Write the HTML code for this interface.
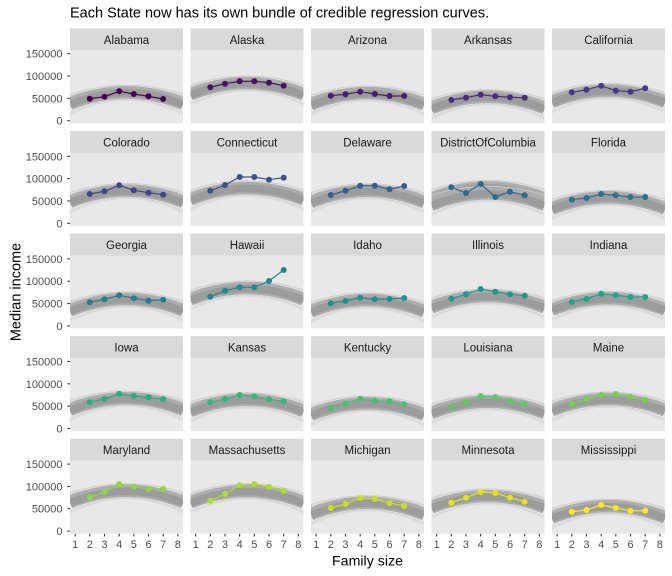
<!DOCTYPE html>
<html><head><meta charset="utf-8">
<style>
html,body{margin:0;padding:0;background:#fff;}
svg{display:block;font-family:"Liberation Sans",Arial,sans-serif;}
.s{font-size:11.5px;fill:#1A1A1A;text-anchor:middle;}
.yl{font-size:11px;fill:#4D4D4D;text-anchor:end;}
.xl{font-size:11px;fill:#4D4D4D;text-anchor:middle;}
.tk{stroke:#333;stroke-width:1.07;}
.ln{fill:none;stroke-width:1.2;}
circle{r:3px;}
</style></head>
<body>
<svg width="672" height="576" viewBox="0 0 672 576" xmlns="http://www.w3.org/2000/svg">
<defs>
<clipPath id="c"><rect x="0" y="0" width="113" height="73"/></clipPath>
<g id="b" fill="none">
 <path d="M0,2 Q56.5,-16 113,2" stroke="#cdcdcd" stroke-width="1"/>
 <path d="M0,4 Q56.5,-15 113,4" stroke="#c2c2c2" stroke-width="1"/>
 <path d="M0,20.5 Q56.5,-6.5 113,20.5" stroke="#d2d2d2" stroke-width="1"/>
 <path d="M0,22.5 Q56.5,-6.5 113,22.5" stroke="#dadada" stroke-width="1"/>
 <path d="M0,11.5 Q56.5,-11.5 113,11.5" stroke="#adadad" stroke-width="12.5"/>
 <path d="M0,12.3 Q56.5,-11.3 113,12.3" stroke="#9c9c9c" stroke-width="7.5"/>
</g>
<g id="yax">
 <text class="yl" x="62.5" y="7.4">150000</text>
 <text class="yl" x="62.5" y="29.7">100000</text>
 <text class="yl" x="62.5" y="52">50000</text>
 <text class="yl" x="62.5" y="74.4">0</text>
 <line class="tk" x1="67.3" x2="70" y1="3.4" y2="3.4"/>
 <line class="tk" x1="67.3" x2="70" y1="25.7" y2="25.7"/>
 <line class="tk" x1="67.3" x2="70" y1="48.07" y2="48.07"/>
 <line class="tk" x1="67.3" x2="70" y1="70.4" y2="70.4"/>
</g>
<g id="xt">
 <line class="tk" x1="5.14" x2="5.14" y1="0" y2="2.75"/>
 <line class="tk" x1="19.81" x2="19.81" y1="0" y2="2.75"/>
 <line class="tk" x1="34.49" x2="34.49" y1="0" y2="2.75"/>
 <line class="tk" x1="49.16" x2="49.16" y1="0" y2="2.75"/>
 <line class="tk" x1="63.84" x2="63.84" y1="0" y2="2.75"/>
 <line class="tk" x1="78.51" x2="78.51" y1="0" y2="2.75"/>
 <line class="tk" x1="93.19" x2="93.19" y1="0" y2="2.75"/>
 <line class="tk" x1="107.86" x2="107.86" y1="0" y2="2.75"/>
</g>
</defs>
<rect width="672" height="576" fill="#fff"/>

<text x="70" y="17.5" style="font-size:14.5px;fill:#000">Each State now has its own bundle of credible regression curves.</text>

<use href="#yax" transform="translate(0,50.3)"/>
<use href="#yax" transform="translate(0,152.9)"/>
<use href="#yax" transform="translate(0,255.5)"/>
<use href="#yax" transform="translate(0,358.1)"/>
<use href="#yax" transform="translate(0,460.7)"/>

<g transform="translate(70,533.7)"><use href="#xt"/>
<text class="xl" x="5.14" y="14.3">1</text><text class="xl" x="19.81" y="14.3">2</text><text class="xl" x="34.49" y="14.3">3</text><text class="xl" x="49.16" y="14.3">4</text><text class="xl" x="63.84" y="14.3">5</text><text class="xl" x="78.51" y="14.3">6</text><text class="xl" x="93.19" y="14.3">7</text><text class="xl" x="107.86" y="14.3">8</text></g>
<g transform="translate(190.5,533.7)"><use href="#xt"/>
<text class="xl" x="5.14" y="14.3">1</text><text class="xl" x="19.81" y="14.3">2</text><text class="xl" x="34.49" y="14.3">3</text><text class="xl" x="49.16" y="14.3">4</text><text class="xl" x="63.84" y="14.3">5</text><text class="xl" x="78.51" y="14.3">6</text><text class="xl" x="93.19" y="14.3">7</text><text class="xl" x="107.86" y="14.3">8</text></g>
<g transform="translate(311,533.7)"><use href="#xt"/>
<text class="xl" x="5.14" y="14.3">1</text><text class="xl" x="19.81" y="14.3">2</text><text class="xl" x="34.49" y="14.3">3</text><text class="xl" x="49.16" y="14.3">4</text><text class="xl" x="63.84" y="14.3">5</text><text class="xl" x="78.51" y="14.3">6</text><text class="xl" x="93.19" y="14.3">7</text><text class="xl" x="107.86" y="14.3">8</text></g>
<g transform="translate(431.5,533.7)"><use href="#xt"/>
<text class="xl" x="5.14" y="14.3">1</text><text class="xl" x="19.81" y="14.3">2</text><text class="xl" x="34.49" y="14.3">3</text><text class="xl" x="49.16" y="14.3">4</text><text class="xl" x="63.84" y="14.3">5</text><text class="xl" x="78.51" y="14.3">6</text><text class="xl" x="93.19" y="14.3">7</text><text class="xl" x="107.86" y="14.3">8</text></g>
<g transform="translate(552,533.7)"><use href="#xt"/>
<text class="xl" x="5.14" y="14.3">1</text><text class="xl" x="19.81" y="14.3">2</text><text class="xl" x="34.49" y="14.3">3</text><text class="xl" x="49.16" y="14.3">4</text><text class="xl" x="63.84" y="14.3">5</text><text class="xl" x="78.51" y="14.3">6</text><text class="xl" x="93.19" y="14.3">7</text><text class="xl" x="107.86" y="14.3">8</text></g>

<text x="367.5" y="565.5" style="font-size:14.2px;fill:#000;text-anchor:middle">Family size</text>
<text transform="translate(20.3,292) rotate(-90)" style="font-size:14.5px;fill:#000;text-anchor:middle">Median income</text>

<!-- ROW 1 -->
<g transform="translate(70,28.3)"><rect width="113" height="22" fill="#D9D9D9"/><text class="s" x="56.5" y="15.5">Alabama</text>
<g transform="translate(0,22)"><rect width="113" height="73" fill="#E8E8E8"/><g clip-path="url(#c)"><use href="#b" transform="translate(0,42)"/></g>
<polyline class="ln" stroke="#440154" points="19.8,48.4 34.5,46.4 49.2,41 63.8,43.7 78.5,46 93.2,48.7"/>
<g fill="#440154"><circle cx="19.8" cy="48.4" r="3"/><circle cx="34.5" cy="46.4" r="3"/><circle cx="49.2" cy="41" r="3"/><circle cx="63.8" cy="43.7" r="3"/><circle cx="78.5" cy="46" r="3"/><circle cx="93.2" cy="48.7" r="3"/></g></g></g>

<g transform="translate(190.5,28.3)"><rect width="113" height="22" fill="#D9D9D9"/><text class="s" x="56.5" y="15.5">Alaska</text>
<g transform="translate(0,22)"><rect width="113" height="73" fill="#E8E8E8"/><g clip-path="url(#c)"><use href="#b" transform="translate(0,32.7)"/></g>
<polyline class="ln" stroke="#471164" points="19.8,37 34.5,33.4 49.2,31 63.8,31 78.5,32.4 93.2,35.4"/>
<g fill="#471164"><circle cx="19.8" cy="37" r="3"/><circle cx="34.5" cy="33.4" r="3"/><circle cx="49.2" cy="31" r="3"/><circle cx="63.8" cy="31" r="3"/><circle cx="78.5" cy="32.4" r="3"/><circle cx="93.2" cy="35.4" r="3"/></g></g></g>

<g transform="translate(311,28.3)"><rect width="113" height="22" fill="#D9D9D9"/><text class="s" x="56.5" y="15.5">Arizona</text>
<g transform="translate(0,22)"><rect width="113" height="73" fill="#E8E8E8"/><g clip-path="url(#c)"><use href="#b" transform="translate(0,42.7)"/></g>
<polyline class="ln" stroke="#481F70" points="19.8,45.4 34.5,44 49.2,41.4 63.8,43.7 78.5,45.7 93.2,45.7"/>
<g fill="#481F70"><circle cx="19.8" cy="45.4" r="3"/><circle cx="34.5" cy="44" r="3"/><circle cx="49.2" cy="41.4" r="3"/><circle cx="63.8" cy="43.7" r="3"/><circle cx="78.5" cy="45.7" r="3"/><circle cx="93.2" cy="45.7" r="3"/></g></g></g>

<g transform="translate(431.5,28.3)"><rect width="113" height="22" fill="#D9D9D9"/><text class="s" x="56.5" y="15.5">Arkansas</text>
<g transform="translate(0,22)"><rect width="113" height="73" fill="#E8E8E8"/><g clip-path="url(#c)"><use href="#b" transform="translate(0,46.4)"/></g>
<polyline class="ln" stroke="#472D7B" points="19.8,49.7 34.5,47.4 49.2,44.4 63.8,46 78.5,47 93.2,47.4"/>
<g fill="#472D7B"><circle cx="19.8" cy="49.7" r="3"/><circle cx="34.5" cy="47.4" r="3"/><circle cx="49.2" cy="44.4" r="3"/><circle cx="63.8" cy="46" r="3"/><circle cx="78.5" cy="47" r="3"/><circle cx="93.2" cy="47.4" r="3"/></g></g></g>

<g transform="translate(552,28.3)"><rect width="113" height="22" fill="#D9D9D9"/><text class="s" x="56.5" y="15.5">California</text>
<g transform="translate(0,22)"><rect width="113" height="73" fill="#E8E8E8"/><g clip-path="url(#c)"><use href="#b" transform="translate(0,40.2)"/></g>
<polyline class="ln" stroke="#443A83" points="19.8,42 34.5,39.4 49.2,35.4 63.8,40.4 78.5,41.4 93.2,38"/>
<g fill="#443A83"><circle cx="19.8" cy="42" r="3"/><circle cx="34.5" cy="39.4" r="3"/><circle cx="49.2" cy="35.4" r="3"/><circle cx="63.8" cy="40.4" r="3"/><circle cx="78.5" cy="41.4" r="3"/><circle cx="93.2" cy="38" r="3"/></g></g></g>

<!-- ROW 2 -->
<g transform="translate(70,130.9)"><rect width="113" height="22" fill="#D9D9D9"/><text class="s" x="56.5" y="15.5">Colorado</text>
<g transform="translate(0,22)"><rect width="113" height="73" fill="#E8E8E8"/><g clip-path="url(#c)"><use href="#b" transform="translate(0,37.6)"/></g>
<polyline class="ln" stroke="#404688" points="19.8,41.1 34.5,38.4 49.2,32.4 63.8,37.4 78.5,39.8 93.2,41.8"/>
<g fill="#404688"><circle cx="19.8" cy="41.1" r="3"/><circle cx="34.5" cy="38.4" r="3"/><circle cx="49.2" cy="32.4" r="3"/><circle cx="63.8" cy="37.4" r="3"/><circle cx="78.5" cy="39.8" r="3"/><circle cx="93.2" cy="41.8" r="3"/></g></g></g>

<g transform="translate(190.5,130.9)"><rect width="113" height="22" fill="#D9D9D9"/><text class="s" x="56.5" y="15.5">Connecticut</text>
<g transform="translate(0,22)"><rect width="113" height="73" fill="#E8E8E8"/><g clip-path="url(#c)"><use href="#b" transform="translate(0,35.1)"/></g>
<polyline class="ln" stroke="#3B528B" points="19.8,37.8 34.5,32.1 49.2,24.1 63.8,24.1 78.5,26.8 93.2,24.8"/>
<g fill="#3B528B"><circle cx="19.8" cy="37.8" r="3"/><circle cx="34.5" cy="32.1" r="3"/><circle cx="49.2" cy="24.1" r="3"/><circle cx="63.8" cy="24.1" r="3"/><circle cx="78.5" cy="26.8" r="3"/><circle cx="93.2" cy="24.8" r="3"/></g></g></g>

<g transform="translate(311,130.9)"><rect width="113" height="22" fill="#D9D9D9"/><text class="s" x="56.5" y="15.5">Delaware</text>
<g transform="translate(0,22)"><rect width="113" height="73" fill="#E8E8E8"/><g clip-path="url(#c)"><use href="#b" transform="translate(0,37.8)"/></g>
<polyline class="ln" stroke="#365D8D" points="19.8,42.1 34.5,37.8 49.2,32.8 63.8,32.8 78.5,36.4 93.2,33.1"/>
<g fill="#365D8D"><circle cx="19.8" cy="42.1" r="3"/><circle cx="34.5" cy="37.8" r="3"/><circle cx="49.2" cy="32.8" r="3"/><circle cx="63.8" cy="32.8" r="3"/><circle cx="78.5" cy="36.4" r="3"/><circle cx="93.2" cy="33.1" r="3"/></g></g></g>

<g transform="translate(431.5,130.9)"><rect width="113" height="22" fill="#D9D9D9"/><text class="s" x="56.5" y="15.5">DistrictOfColumbia</text>
<g transform="translate(0,22)"><rect width="113" height="73" fill="#E8E8E8"/><g clip-path="url(#c)"><use href="#b" transform="translate(0,34.5)"/><use href="#b" transform="translate(0,40.5)"/></g>
<polyline class="ln" stroke="#31688E" points="19.8,34.4 34.5,40.1 49.2,31.1 63.8,44.1 78.5,38.8 93.2,42.4"/>
<g fill="#31688E"><circle cx="19.8" cy="34.4" r="3"/><circle cx="34.5" cy="40.1" r="3"/><circle cx="49.2" cy="31.1" r="3"/><circle cx="63.8" cy="44.1" r="3"/><circle cx="78.5" cy="38.8" r="3"/><circle cx="93.2" cy="42.4" r="3"/></g></g></g>

<g transform="translate(552,130.9)"><rect width="113" height="22" fill="#D9D9D9"/><text class="s" x="56.5" y="15.5">Florida</text>
<g transform="translate(0,22)"><rect width="113" height="73" fill="#E8E8E8"/><g clip-path="url(#c)"><use href="#b" transform="translate(0,44.4)"/></g>
<polyline class="ln" stroke="#2C728E" points="19.8,46.8 34.5,45.1 49.2,41.1 63.8,42.4 78.5,44.1 93.2,44.1"/>
<g fill="#2C728E"><circle cx="19.8" cy="46.8" r="3"/><circle cx="34.5" cy="45.1" r="3"/><circle cx="49.2" cy="41.1" r="3"/><circle cx="63.8" cy="42.4" r="3"/><circle cx="78.5" cy="44.1" r="3"/><circle cx="93.2" cy="44.1" r="3"/></g></g></g>

<!-- ROW 3 -->
<g transform="translate(70,233.5)"><rect width="113" height="22" fill="#D9D9D9"/><text class="s" x="56.5" y="15.5">Georgia</text>
<g transform="translate(0,22)"><rect width="113" height="73" fill="#E8E8E8"/><g clip-path="url(#c)"><use href="#b" transform="translate(0,43.5)"/></g>
<polyline class="ln" stroke="#287C8E" points="19.8,46.8 34.5,43.8 49.2,39.8 63.8,42.8 78.5,45.2 93.2,44.2"/>
<g fill="#287C8E"><circle cx="19.8" cy="46.8" r="3"/><circle cx="34.5" cy="43.8" r="3"/><circle cx="49.2" cy="39.8" r="3"/><circle cx="63.8" cy="42.8" r="3"/><circle cx="78.5" cy="45.2" r="3"/><circle cx="93.2" cy="44.2" r="3"/></g></g></g>

<g transform="translate(190.5,233.5)"><rect width="113" height="22" fill="#D9D9D9"/><text class="s" x="56.5" y="15.5">Hawaii</text>
<g transform="translate(0,22)"><rect width="113" height="73" fill="#E8E8E8"/><g clip-path="url(#c)"><use href="#b" transform="translate(0,32.5)"/></g>
<polyline class="ln" stroke="#24868E" points="19.8,41.2 34.5,35.2 49.2,31.8 63.8,31.8 78.5,25.5 93.2,14.5"/>
<g fill="#24868E"><circle cx="19.8" cy="41.2" r="3"/><circle cx="34.5" cy="35.2" r="3"/><circle cx="49.2" cy="31.8" r="3"/><circle cx="63.8" cy="31.8" r="3"/><circle cx="78.5" cy="25.5" r="3"/><circle cx="93.2" cy="14.5" r="3"/></g></g></g>

<g transform="translate(311,233.5)"><rect width="113" height="22" fill="#D9D9D9"/><text class="s" x="56.5" y="15.5">Idaho</text>
<g transform="translate(0,22)"><rect width="113" height="73" fill="#E8E8E8"/><g clip-path="url(#c)"><use href="#b" transform="translate(0,44.5)"/></g>
<polyline class="ln" stroke="#21908C" points="19.8,47.8 34.5,45.5 49.2,42.2 63.8,43.8 78.5,43.5 93.2,42.5"/>
<g fill="#21908C"><circle cx="19.8" cy="47.8" r="3"/><circle cx="34.5" cy="45.5" r="3"/><circle cx="49.2" cy="42.2" r="3"/><circle cx="63.8" cy="43.8" r="3"/><circle cx="78.5" cy="43.5" r="3"/><circle cx="93.2" cy="42.5" r="3"/></g></g></g>

<g transform="translate(431.5,233.5)"><rect width="113" height="22" fill="#D9D9D9"/><text class="s" x="56.5" y="15.5">Illinois</text>
<g transform="translate(0,22)"><rect width="113" height="73" fill="#E8E8E8"/><g clip-path="url(#c)"><use href="#b" transform="translate(0,40.5)"/></g>
<polyline class="ln" stroke="#1F9A8A" points="19.8,43.2 34.5,38.8 49.2,33.5 63.8,36.2 78.5,38.8 93.2,40.2"/>
<g fill="#1F9A8A"><circle cx="19.8" cy="43.2" r="3"/><circle cx="34.5" cy="38.8" r="3"/><circle cx="49.2" cy="33.5" r="3"/><circle cx="63.8" cy="36.2" r="3"/><circle cx="78.5" cy="38.8" r="3"/><circle cx="93.2" cy="40.2" r="3"/></g></g></g>

<g transform="translate(552,233.5)"><rect width="113" height="22" fill="#D9D9D9"/><text class="s" x="56.5" y="15.5">Indiana</text>
<g transform="translate(0,22)"><rect width="113" height="73" fill="#E8E8E8"/><g clip-path="url(#c)"><use href="#b" transform="translate(0,42.8)"/></g>
<polyline class="ln" stroke="#20A486" points="19.8,46.5 34.5,43.5 49.2,38.2 63.8,39.8 78.5,41.5 93.2,41.5"/>
<g fill="#20A486"><circle cx="19.8" cy="46.5" r="3"/><circle cx="34.5" cy="43.5" r="3"/><circle cx="49.2" cy="38.2" r="3"/><circle cx="63.8" cy="39.8" r="3"/><circle cx="78.5" cy="41.5" r="3"/><circle cx="93.2" cy="41.5" r="3"/></g></g></g>

<!-- ROW 4 -->
<g transform="translate(70,336.1)"><rect width="113" height="22" fill="#D9D9D9"/><text class="s" x="56.5" y="15.5">Iowa</text>
<g transform="translate(0,22)"><rect width="113" height="73" fill="#E8E8E8"/><g clip-path="url(#c)"><use href="#b" transform="translate(0,40.2)"/></g>
<polyline class="ln" stroke="#27AD81" points="19.8,44.2 34.5,40.9 49.2,35.6 63.8,37.9 78.5,39.2 93.2,40.9"/>
<g fill="#27AD81"><circle cx="19.8" cy="44.2" r="3"/><circle cx="34.5" cy="40.9" r="3"/><circle cx="49.2" cy="35.6" r="3"/><circle cx="63.8" cy="37.9" r="3"/><circle cx="78.5" cy="39.2" r="3"/><circle cx="93.2" cy="40.9" r="3"/></g></g></g>

<g transform="translate(190.5,336.1)"><rect width="113" height="22" fill="#D9D9D9"/><text class="s" x="56.5" y="15.5">Kansas</text>
<g transform="translate(0,22)"><rect width="113" height="73" fill="#E8E8E8"/><g clip-path="url(#c)"><use href="#b" transform="translate(0,41.6)"/></g>
<polyline class="ln" stroke="#35B779" points="19.8,44.2 34.5,40.9 49.2,36.9 63.8,38.2 78.5,41.2 93.2,43.2"/>
<g fill="#35B779"><circle cx="19.8" cy="44.2" r="3"/><circle cx="34.5" cy="40.9" r="3"/><circle cx="49.2" cy="36.9" r="3"/><circle cx="63.8" cy="38.2" r="3"/><circle cx="78.5" cy="41.2" r="3"/><circle cx="93.2" cy="43.2" r="3"/></g></g></g>

<g transform="translate(311,336.1)"><rect width="113" height="22" fill="#D9D9D9"/><text class="s" x="56.5" y="15.5">Kentucky</text>
<g transform="translate(0,22)"><rect width="113" height="73" fill="#E8E8E8"/><g clip-path="url(#c)"><use href="#b" transform="translate(0,45.2)"/></g>
<polyline class="ln" stroke="#47C16E" points="19.8,49.6 34.5,45.6 49.2,40.6 63.8,42.9 78.5,43.2 93.2,46.2"/>
<g fill="#47C16E"><circle cx="19.8" cy="49.6" r="3"/><circle cx="34.5" cy="45.6" r="3"/><circle cx="49.2" cy="40.6" r="3"/><circle cx="63.8" cy="42.9" r="3"/><circle cx="78.5" cy="43.2" r="3"/><circle cx="93.2" cy="46.2" r="3"/></g></g></g>

<g transform="translate(431.5,336.1)"><rect width="113" height="22" fill="#D9D9D9"/><text class="s" x="56.5" y="15.5">Louisiana</text>
<g transform="translate(0,22)"><rect width="113" height="73" fill="#E8E8E8"/><g clip-path="url(#c)"><use href="#b" transform="translate(0,43.6)"/></g>
<polyline class="ln" stroke="#5DC863" points="19.8,48.9 34.5,43.9 49.2,37.9 63.8,38.9 78.5,42.9 93.2,45.9"/>
<g fill="#5DC863"><circle cx="19.8" cy="48.9" r="3"/><circle cx="34.5" cy="43.9" r="3"/><circle cx="49.2" cy="37.9" r="3"/><circle cx="63.8" cy="38.9" r="3"/><circle cx="78.5" cy="42.9" r="3"/><circle cx="93.2" cy="45.9" r="3"/></g></g></g>

<g transform="translate(552,336.1)"><rect width="113" height="22" fill="#D9D9D9"/><text class="s" x="56.5" y="15.5">Maine</text>
<g transform="translate(0,22)"><rect width="113" height="73" fill="#E8E8E8"/><g clip-path="url(#c)"><use href="#b" transform="translate(0,40.9)"/></g>
<polyline class="ln" stroke="#75D054" points="19.8,45.9 34.5,40.9 49.2,36.9 63.8,35.9 78.5,38.9 93.2,41.9"/>
<g fill="#75D054"><circle cx="19.8" cy="45.9" r="3"/><circle cx="34.5" cy="40.9" r="3"/><circle cx="49.2" cy="36.9" r="3"/><circle cx="63.8" cy="35.9" r="3"/><circle cx="78.5" cy="38.9" r="3"/><circle cx="93.2" cy="41.9" r="3"/></g></g></g>

<!-- ROW 5 -->
<g transform="translate(70,438.7)"><rect width="113" height="22" fill="#D9D9D9"/><text class="s" x="56.5" y="15.5">Maryland</text>
<g transform="translate(0,22)"><rect width="113" height="73" fill="#E8E8E8"/><g clip-path="url(#c)"><use href="#b" transform="translate(0,30)"/></g>
<polyline class="ln" stroke="#8FD744" points="19.8,36.6 34.5,31.3 49.2,23.3 63.8,26 78.5,28.3 93.2,28"/>
<g fill="#8FD744"><circle cx="19.8" cy="36.6" r="3"/><circle cx="34.5" cy="31.3" r="3"/><circle cx="49.2" cy="23.3" r="3"/><circle cx="63.8" cy="26" r="3"/><circle cx="78.5" cy="28.3" r="3"/><circle cx="93.2" cy="28" r="3"/></g></g></g>

<g transform="translate(190.5,438.7)"><rect width="113" height="22" fill="#D9D9D9"/><text class="s" x="56.5" y="15.5">Massachusetts</text>
<g transform="translate(0,22)"><rect width="113" height="73" fill="#E8E8E8"/><g clip-path="url(#c)"><use href="#b" transform="translate(0,30.3)"/></g>
<polyline class="ln" stroke="#AADC32" points="19.8,40 34.5,33.3 49.2,24.6 63.8,23.3 78.5,26 93.2,30.3"/>
<g fill="#AADC32"><circle cx="19.8" cy="40" r="3"/><circle cx="34.5" cy="33.3" r="3"/><circle cx="49.2" cy="24.6" r="3"/><circle cx="63.8" cy="23.3" r="3"/><circle cx="78.5" cy="26" r="3"/><circle cx="93.2" cy="30.3" r="3"/></g></g></g>

<g transform="translate(311,438.7)"><rect width="113" height="22" fill="#D9D9D9"/><text class="s" x="56.5" y="15.5">Michigan</text>
<g transform="translate(0,22)"><rect width="113" height="73" fill="#E8E8E8"/><g clip-path="url(#c)"><use href="#b" transform="translate(0,42)"/></g>
<polyline class="ln" stroke="#C7E020" points="19.8,47.3 34.5,43.3 49.2,37.3 63.8,38.3 78.5,42.3 93.2,45.3"/>
<g fill="#C7E020"><circle cx="19.8" cy="47.3" r="3"/><circle cx="34.5" cy="43.3" r="3"/><circle cx="49.2" cy="37.3" r="3"/><circle cx="63.8" cy="38.3" r="3"/><circle cx="78.5" cy="42.3" r="3"/><circle cx="93.2" cy="45.3" r="3"/></g></g></g>

<g transform="translate(431.5,438.7)"><rect width="113" height="22" fill="#D9D9D9"/><text class="s" x="56.5" y="15.5">Minnesota</text>
<g transform="translate(0,22)"><rect width="113" height="73" fill="#E8E8E8"/><g clip-path="url(#c)"><use href="#b" transform="translate(0,35.3)"/></g>
<polyline class="ln" stroke="#E3E418" points="19.8,42 34.5,37 49.2,31.3 63.8,32.3 78.5,37 93.2,41"/>
<g fill="#E3E418"><circle cx="19.8" cy="42" r="3"/><circle cx="34.5" cy="37" r="3"/><circle cx="49.2" cy="31.3" r="3"/><circle cx="63.8" cy="32.3" r="3"/><circle cx="78.5" cy="37" r="3"/><circle cx="93.2" cy="41" r="3"/></g></g></g>

<g transform="translate(552,438.7)"><rect width="113" height="22" fill="#D9D9D9"/><text class="s" x="56.5" y="15.5">Mississippi</text>
<g transform="translate(0,22)"><rect width="113" height="73" fill="#E8E8E8"/><g clip-path="url(#c)"><use href="#b" transform="translate(0,45.5)"/></g>
<polyline class="ln" stroke="#FDE725" points="19.8,51 34.5,49.3 49.2,44.3 63.8,47.3 78.5,50 93.2,50"/>
<g fill="#FDE725"><circle cx="19.8" cy="51" r="3"/><circle cx="34.5" cy="49.3" r="3"/><circle cx="49.2" cy="44.3" r="3"/><circle cx="63.8" cy="47.3" r="3"/><circle cx="78.5" cy="50" r="3"/><circle cx="93.2" cy="50" r="3"/></g></g></g>

</svg>
</body></html>
